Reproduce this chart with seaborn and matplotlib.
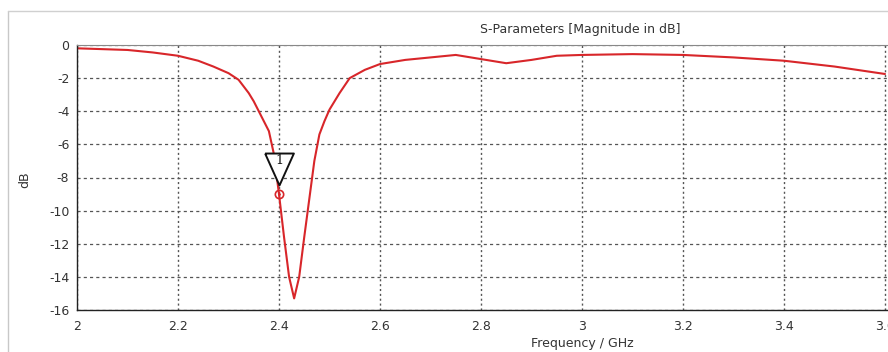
import matplotlib
matplotlib.use("Agg")
import matplotlib.pyplot as plt
from matplotlib.lines import Line2D
import pandas as pd
import seaborn as sns

# S11 (GHz, dB)
freq = [2.00, 2.05, 2.10, 2.15, 2.20, 2.24, 2.27, 2.30, 2.32, 2.34, 2.35, 2.36, 2.37, 2.38,
        2.39, 2.40, 2.41, 2.42, 2.43, 2.44, 2.45, 2.46, 2.47, 2.48, 2.49, 2.50, 2.52, 2.54,
        2.57, 2.60, 2.65, 2.70, 2.75, 2.80, 2.85, 2.90, 2.95, 3.00, 3.10, 3.20, 3.30, 3.40,
        3.50, 3.60]
s11 = [-0.2, -0.25, -0.3, -0.45, -0.65, -0.95, -1.3, -1.7, -2.1, -2.9, -3.4, -4.0, -4.6, -5.2,
       -6.6, -9.0, -11.6, -14.0, -15.3, -14.0, -11.6, -9.3, -7.0, -5.4, -4.6, -3.9, -2.9, -2.0,
       -1.5, -1.15, -0.9, -0.75, -0.6, -0.85, -1.1, -0.9, -0.65, -0.6, -0.55, -0.6, -0.75, -0.95,
       -1.3, -1.75]
marker_f, marker_db = 2.40, -9.0
xticks = [2, 2.2, 2.4, 2.6, 2.8, 3, 3.2, 3.4, 3.6]
xticklabels = ["2", "2.2", "2.4", "2.6", "2.8", "3", "3.2", "3.4", "3.6"]
yticks = [0, -2, -4, -6, -8, -10, -12, -14, -16]

df = pd.DataFrame({"Frequency / GHz": freq, "dB": s11})

sns.set_style("white")
plt.rcParams["font.family"] = ["DejaVu Sans"]
plt.rcParams["axes.unicode_minus"] = False

fig = plt.figure(figsize=(8.88, 3.52), dpi=100)
ax = fig.add_axes([77/888, 1-310/352, 1-77/888, (310-45)/352])

sns.lineplot(data=df, x="Frequency / GHz", y="dB", color="#d8262a", lw=1.5, ax=ax)

# marker 1
ax.plot([marker_f], [marker_db], marker="o", ms=6, mfc="none", mec="#d8262a", mew=1.2, zorder=5)
ax.plot([marker_f], [marker_db], marker=".", ms=2, color="#d8262a", zorder=5)
tri = [(-0.45, 0.5), (0.45, 0.5), (0, -0.5), (-0.45, 0.5)]
ax.plot([marker_f], [-7.49], marker=tri, ms=23, mfc="white", mec="#111111", mew=1.4, zorder=6)
ax.text(marker_f, -7.0, "1", ha="center", va="center", fontsize=9, color="#111111",
        family=["DejaVu Serif"], zorder=7)

ax.set_xlim(2, 3.606)
ax.set_ylim(-16, 0)
ax.set_xticks(xticks)
ax.set_xticklabels(xticklabels)
ax.set_yticks(yticks)
ax.set_yticklabels([str(v) for v in yticks])
ax.tick_params(direction="inout", length=7, width=0.8, colors="#222222",
               labelsize=9, labelcolor="#333333")
ax.tick_params(axis="y", pad=2)
ax.tick_params(axis="x", pad=4)
ax.grid(True, axis="y", color="#555555", lw=0.9, ls=(0, (2.5, 2.5)))
ax.grid(True, axis="x", color="#555555", lw=1.0, ls=(0, (1.5, 2.0)))
for s in ["left", "bottom"]:
    ax.spines[s].set_color("#222222")
    ax.spines[s].set_linewidth(1.0)
ax.spines["top"].set_color("#888888")
ax.spines["top"].set_linewidth(0.8)
ax.spines["right"].set_visible(False)
ax.set_xlabel("")
ax.set_ylabel("")

fig.text(25/888, 1-180/352, "dB", rotation=90, ha="center", va="center", fontsize=9, color="#333333")
fig.text(582/888, 1-343/352, "Frequency / GHz", ha="center", va="center", fontsize=9, color="#333333")
fig.text(580/888, 1-30/352, "S-Parameters [Magnitude in dB]", ha="center", va="center",
         fontsize=9, color="#333333")

# outer frame
fig.add_artist(Line2D([8/888, 8/888], [0, 1-11/352], color="#c8c8c8", lw=1.0))
fig.add_artist(Line2D([8/888, 1], [1-11/352, 1-11/352], color="#d0d0d0", lw=1.0))

fig.savefig("out.png", dpi=100)
